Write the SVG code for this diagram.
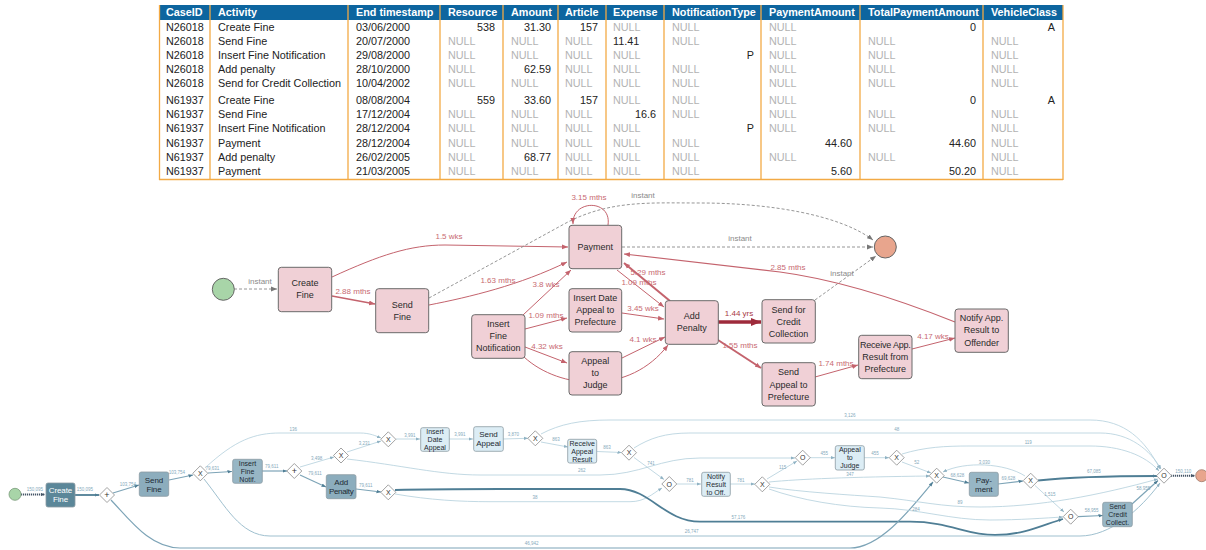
<svg xmlns="http://www.w3.org/2000/svg" width="1206" height="550" viewBox="0 0 1206 550">
<defs>
<style>
.hd{font:bold 10.8px 'Liberation Sans',Arial,sans-serif;fill:#fff}
.c{font:10.8px 'Liberation Sans',Arial,sans-serif;fill:#222}
.n{font:10.8px 'Liberation Sans',Arial,sans-serif;fill:#b3b3b3}
.r{text-anchor:end}
.sep{stroke:#f3aa45;stroke-width:1.3}
.pn rect{fill:#f0d0d6;stroke:#6a6a6a;stroke-width:1}
.pn text{font:9px 'Liberation Sans',Arial,sans-serif;fill:#2a2a2a;text-anchor:middle}
.pe{fill:none;stroke:#c4636d;stroke-width:1}
.pd{fill:none;stroke:#8a8a8a;stroke-width:0.9;stroke-dasharray:3 2}
.pl{font:8px 'Liberation Sans',Arial,sans-serif;fill:#c86a72;text-anchor:middle}
.gl{font:8px 'Liberation Sans',Arial,sans-serif;fill:#8a8a8a;text-anchor:middle}
.bn rect{stroke:#8a9aa2;stroke-width:0.8}
.bn text{font:8px 'Liberation Sans',Arial,sans-serif;fill:#1e2b33;text-anchor:middle;letter-spacing:-0.1px}
.bn text.s{font-size:7px;letter-spacing:0}
.dk rect{fill:#5b8799}
.dk text{fill:#fff}
.md rect{fill:#8cadbd}
.lt rect{fill:#dcedf5}
.gw polygon{fill:#fff;stroke:#8a8a8a;stroke-width:0.8}
.gw text{font:7px 'Liberation Sans',Arial,sans-serif;fill:#333;text-anchor:middle}
.be{fill:none;stroke:#b3cfdc;stroke-width:0.8}
.bm{fill:none;stroke:#7da4b7;stroke-width:1.2}
.bk{fill:none;stroke:#4f7e95;stroke-width:1.8}
.bl{font:4.5px 'Liberation Sans',Arial,sans-serif;fill:#86a9bb;text-anchor:middle}
</style>
<marker id="ar" viewBox="0 0 10 10" refX="10" refY="5" markerWidth="6" markerHeight="6" markerUnits="userSpaceOnUse" orient="auto"><path d="M0,1 L10,5 L0,9 z" fill="#c4636d"/></marker>
<marker id="arB" viewBox="0 0 10 10" refX="10" refY="5" markerWidth="10" markerHeight="10" markerUnits="userSpaceOnUse" orient="auto"><path d="M0,1 L10,5 L0,9 z" fill="#9e2b3b"/></marker>
<marker id="ag" viewBox="0 0 10 10" refX="10" refY="5" markerWidth="6" markerHeight="6" markerUnits="userSpaceOnUse" orient="auto"><path d="M0,1 L10,5 L0,9 z" fill="#777"/></marker>
<marker id="ab" viewBox="0 0 10 10" refX="10" refY="5" markerWidth="4" markerHeight="4" markerUnits="userSpaceOnUse" orient="auto"><path d="M0,1 L10,5 L0,9 z" fill="#8fb2c3"/></marker>
<marker id="abd" viewBox="0 0 10 10" refX="10" refY="5" markerWidth="4.5" markerHeight="4.5" markerUnits="userSpaceOnUse" orient="auto"><path d="M0,1 L10,5 L0,9 z" fill="#4f7e95"/></marker>
<marker id="abk" viewBox="0 0 10 10" refX="10" refY="5" markerWidth="4.5" markerHeight="4.5" markerUnits="userSpaceOnUse" orient="auto"><path d="M0,1 L10,5 L0,9 z" fill="#445566"/></marker>
</defs>
<rect width="1206" height="550" fill="#fff"/>

<g id="table">
<rect x="159" y="5" width="904" height="15" fill="#0d659f"/>
<g class="sep">
<line x1="159.5" y1="5" x2="159.5" y2="180"/><line x1="210" y1="5" x2="210" y2="180"/><line x1="348" y1="5" x2="348" y2="180"/><line x1="440" y1="5" x2="440" y2="180"/><line x1="503" y1="5" x2="503" y2="180"/><line x1="558" y1="5" x2="558" y2="180"/><line x1="606" y1="5" x2="606" y2="180"/><line x1="664" y1="5" x2="664" y2="180"/><line x1="761" y1="5" x2="761" y2="180"/><line x1="860" y1="5" x2="860" y2="180"/><line x1="983" y1="5" x2="983" y2="180"/><line x1="1063" y1="5" x2="1063" y2="180"/><line x1="159" y1="179.5" x2="1063" y2="179.5"/>
</g>
<text class="hd" x="166" y="16.3">CaseID</text><text class="hd" x="218" y="16.3">Activity</text><text class="hd" x="356" y="16.3">End timestamp</text><text class="hd" x="448" y="16.3">Resource</text><text class="hd" x="511" y="16.3">Amount</text><text class="hd" x="565" y="16.3">Article</text><text class="hd" x="613" y="16.3">Expense</text><text class="hd" x="672" y="16.3">NotificationType</text><text class="hd" x="769" y="16.3">PaymentAmount</text><text class="hd" x="868" y="16.3">TotalPaymentAmount</text><text class="hd" x="991" y="16.3">VehicleClass</text>

<text class="c" x="166" y="30.5">N26018</text><text class="c" x="218" y="30.5">Create Fine</text><text class="c" x="356" y="30.5">03/06/2000</text><text class="c r" x="495" y="30.5">538</text><text class="c r" x="551" y="30.5">31.30</text><text class="c r" x="598" y="30.5">157</text><text class="n" x="613" y="30.5">NULL</text><text class="n" x="672" y="30.5">NULL</text><text class="n" x="769" y="30.5">NULL</text><text class="c r" x="976" y="30.5">0</text><text class="c r" x="1055" y="30.5">A</text>

<text class="c" x="166" y="45.1">N26018</text><text class="c" x="218" y="45.1">Send Fine</text><text class="c" x="356" y="45.1">20/07/2000</text><text class="n" x="448" y="45.1">NULL</text><text class="n" x="511" y="45.1">NULL</text><text class="n" x="565" y="45.1">NULL</text><text class="c" x="613" y="45.1">11.41</text><text class="n" x="672" y="45.1">NULL</text><text class="n" x="769" y="45.1">NULL</text><text class="n" x="868" y="45.1">NULL</text><text class="n" x="991" y="45.1">NULL</text>

<text class="c" x="166" y="59.1">N26018</text><text class="c" x="218" y="59.1">Insert Fine Notification</text><text class="c" x="356" y="59.1">29/08/2000</text><text class="n" x="448" y="59.1">NULL</text><text class="n" x="511" y="59.1">NULL</text><text class="n" x="565" y="59.1">NULL</text><text class="n" x="613" y="59.1">NULL</text><text class="c r" x="754" y="59.1">P</text><text class="n" x="769" y="59.1">NULL</text><text class="n" x="868" y="59.1">NULL</text><text class="n" x="991" y="59.1">NULL</text>

<text class="c" x="166" y="73.1">N26018</text><text class="c" x="218" y="73.1">Add penalty</text><text class="c" x="356" y="73.1">28/10/2000</text><text class="n" x="448" y="73.1">NULL</text><text class="c r" x="551" y="73.1">62.59</text><text class="n" x="565" y="73.1">NULL</text><text class="n" x="613" y="73.1">NULL</text><text class="n" x="672" y="73.1">NULL</text><text class="n" x="769" y="73.1">NULL</text><text class="n" x="868" y="73.1">NULL</text><text class="n" x="991" y="73.1">NULL</text>

<text class="c" x="166" y="87.1">N26018</text><text class="c" x="218" y="87.1">Send for Credit Collection</text><text class="c" x="356" y="87.1">10/04/2002</text><text class="n" x="448" y="87.1">NULL</text><text class="n" x="511" y="87.1">NULL</text><text class="n" x="565" y="87.1">NULL</text><text class="n" x="613" y="87.1">NULL</text><text class="n" x="672" y="87.1">NULL</text><text class="n" x="769" y="87.1">NULL</text><text class="n" x="868" y="87.1">NULL</text><text class="n" x="991" y="87.1">NULL</text>

<text class="c" x="166" y="103.8">N61937</text><text class="c" x="218" y="103.8">Create Fine</text><text class="c" x="356" y="103.8">08/08/2004</text><text class="c r" x="495" y="103.8">559</text><text class="c r" x="551" y="103.8">33.60</text><text class="c r" x="598" y="103.8">157</text><text class="n" x="613" y="103.8">NULL</text><text class="n" x="672" y="103.8">NULL</text><text class="n" x="769" y="103.8">NULL</text><text class="c r" x="976" y="103.8">0</text><text class="c r" x="1055" y="103.8">A</text>

<text class="c" x="166" y="118.1">N61937</text><text class="c" x="218" y="118.1">Send Fine</text><text class="c" x="356" y="118.1">17/12/2004</text><text class="n" x="448" y="118.1">NULL</text><text class="n" x="511" y="118.1">NULL</text><text class="n" x="565" y="118.1">NULL</text><text class="c r" x="656" y="118.1">16.6</text><text class="n" x="672" y="118.1">NULL</text><text class="n" x="769" y="118.1">NULL</text><text class="n" x="868" y="118.1">NULL</text><text class="n" x="991" y="118.1">NULL</text>

<text class="c" x="166" y="132.1">N61937</text><text class="c" x="218" y="132.1">Insert Fine Notification</text><text class="c" x="356" y="132.1">28/12/2004</text><text class="n" x="448" y="132.1">NULL</text><text class="n" x="511" y="132.1">NULL</text><text class="n" x="565" y="132.1">NULL</text><text class="n" x="613" y="132.1">NULL</text><text class="c r" x="754" y="132.1">P</text><text class="n" x="769" y="132.1">NULL</text><text class="n" x="868" y="132.1">NULL</text><text class="n" x="991" y="132.1">NULL</text>

<text class="c" x="166" y="147.1">N61937</text><text class="c" x="218" y="147.1">Payment</text><text class="c" x="356" y="147.1">28/12/2004</text><text class="n" x="448" y="147.1">NULL</text><text class="n" x="511" y="147.1">NULL</text><text class="n" x="565" y="147.1">NULL</text><text class="n" x="613" y="147.1">NULL</text><text class="n" x="672" y="147.1">NULL</text><text class="c r" x="852" y="147.1">44.60</text><text class="c r" x="976" y="147.1">44.60</text><text class="n" x="991" y="147.1">NULL</text>

<text class="c" x="166" y="160.8">N61937</text><text class="c" x="218" y="160.8">Add penalty</text><text class="c" x="356" y="160.8">26/02/2005</text><text class="n" x="448" y="160.8">NULL</text><text class="c r" x="551" y="160.8">68.77</text><text class="n" x="565" y="160.8">NULL</text><text class="n" x="613" y="160.8">NULL</text><text class="n" x="672" y="160.8">NULL</text><text class="n" x="769" y="160.8">NULL</text><text class="n" x="868" y="160.8">NULL</text><text class="n" x="991" y="160.8">NULL</text>

<text class="c" x="166" y="175.1">N61937</text><text class="c" x="218" y="175.1">Payment</text><text class="c" x="356" y="175.1">21/03/2005</text><text class="n" x="448" y="175.1">NULL</text><text class="n" x="511" y="175.1">NULL</text><text class="n" x="565" y="175.1">NULL</text><text class="n" x="613" y="175.1">NULL</text><text class="n" x="672" y="175.1">NULL</text><text class="c r" x="852" y="175.1">5.60</text><text class="c r" x="976" y="175.1">50.20</text><text class="n" x="991" y="175.1">NULL</text>
</g>

<g id="pm-edges">
<path class="pd" d="M234,289 L277,289" marker-end="url(#ag)"/>
<text class="gl" x="260" y="284">instant</text>
<path class="pe" d="M332,296 L375,304" style="stroke-width:1.6" marker-end="url(#ar)"/>
<text class="pl" x="353" y="294">2.88 mths</text>
<path class="pe" d="M332,277 C380,255 410,245 445,245 L568,247" marker-end="url(#ar)"/>
<text class="pl" x="449" y="239">1.5 wks</text>
<path class="pe" d="M429,305 C470,297 520,285 567,262" marker-end="url(#ar)"/>
<text class="pl" x="498" y="282.5">1.63 mths</text>
<path class="pd" d="M429,298 L566,223 C610,200 650,203 700,203 C770,203 840,215 873,240" marker-end="url(#ag)"/>
<text class="gl" x="643" y="198">instant</text>
<path class="pe" d="M608,225 C612,199 572,199 573,224" marker-end="url(#ar)"/>
<text class="pl" x="589" y="200">3.15 mths</text>
<path class="pd" d="M622,247 L873,247" marker-end="url(#ag)"/>
<text class="gl" x="740" y="241">instant</text>
<path class="pd" d="M815,300 L876,256" marker-end="url(#ag)"/>
<text class="gl" x="842" y="275.5">instant</text>
<path class="pe" d="M523,315 L571,270" marker-end="url(#ar)"/>
<text class="pl" x="546" y="287">3.8 wks</text>
<path class="pe" d="M525,329 L567,318" marker-end="url(#ar)"/>
<text class="pl" x="546" y="318">1.09 mths</text>
<path class="pe" d="M525,347 L567,363" marker-end="url(#ar)"/>
<text class="pl" x="547" y="349">4.32 wks</text>
<path class="pe" d="M524,357 C560,390 630,395 668,345" marker-end="url(#ar)"/>
<path class="pe" d="M622,313 L664,319" marker-end="url(#ar)"/>
<text class="pl" x="643" y="311">3.45 wks</text>
<path class="pe" d="M622,358 L665,337" marker-end="url(#ar)"/>
<text class="pl" x="643" y="342">4.1 wks</text>
<path class="pe" d="M617,270 L664,307" marker-end="url(#ar)"/>
<text class="pl" x="639" y="285">1.09 mths</text>
<path class="pe" d="M670,301 L624,263" style="stroke-width:2" marker-end="url(#ar)"/>
<text class="pl" x="648" y="275">5.29 mths</text>
<path class="pe" d="M718,322 L761,322" style="stroke:#9e2b3b;stroke-width:3.5" marker-end="url(#arB)"/>
<text class="pl" x="739" y="316" style="fill:#a83845">1.44 yrs</text>
<path class="pe" d="M718,340 L761,368" style="stroke-width:2" marker-end="url(#ar)"/>
<text class="pl" x="740" y="348">1.55 mths</text>
<path class="pe" d="M815,377 L858,365" marker-end="url(#ar)"/>
<text class="pl" x="836" y="366">1.74 mths</text>
<path class="pe" d="M912,349 L955,338" marker-end="url(#ar)"/>
<text class="pl" x="933" y="338.5">4.17 wks</text>
<path class="pe" d="M955,322 C900,300 840,280 780,272 C720,265 660,258 624,254" style="stroke-width:1.2" marker-end="url(#ar)"/>
<text class="pl" x="788" y="270">2.85 mths</text>
</g>

<g id="pm-nodes">
<g id="pm-start"><circle cx="223.3" cy="289.3" r="11" fill="#a8d5a8" stroke="#666" stroke-width="1"/></g>
<g id="pm-end"><circle cx="885.3" cy="247" r="11" fill="#e8a58d" stroke="#666" stroke-width="1"/></g>
<g id="pm-create-fine" class="pn"><rect x="278.3" y="267.3" width="53.4" height="44.4" rx="3"/><text x="305" y="286">Create</text><text x="305" y="298">Fine</text></g>
<g id="pm-send-fine" class="pn"><rect x="375.7" y="288.7" width="53" height="44" rx="3"/><text x="402.2" y="307.5">Send</text><text x="402.2" y="320">Fine</text></g>
<g id="pm-insert-fine-notification" class="pn"><rect x="471.7" y="314.7" width="53.3" height="43.6" rx="3"/><text x="498.3" y="327.3">Insert</text><text x="498.3" y="339.3">Fine</text><text x="498.3" y="351.3">Notification</text></g>
<g id="pm-payment" class="pn"><rect x="569" y="225.3" width="52.7" height="43.4" rx="3"/><text x="595.3" y="250.3">Payment</text></g>
<g id="pm-insert-date-appeal" class="pn"><rect x="569" y="288.7" width="52.7" height="43.3" rx="3"/><text x="595.3" y="301">Insert Date</text><text x="595.3" y="313">Appeal to</text><text x="595.3" y="325">Prefecture</text></g>
<g id="pm-appeal-to-judge" class="pn"><rect x="569" y="351.7" width="52.7" height="43.3" rx="3"/><text x="595.3" y="364">Appeal</text><text x="595.3" y="376">to</text><text x="595.3" y="388.3">Judge</text></g>
<g id="pm-add-penalty" class="pn"><rect x="665.3" y="300.7" width="53" height="43.6" rx="3"/><text x="691.8" y="319">Add</text><text x="691.8" y="331">Penalty</text></g>
<g id="pm-send-credit-collection" class="pn"><rect x="762" y="299.7" width="53.3" height="43.3" rx="3"/><text x="788.6" y="313">Send for</text><text x="788.6" y="325">Credit</text><text x="788.6" y="337">Collection</text></g>
<g id="pm-send-appeal-prefecture" class="pn"><rect x="762" y="362.7" width="53.3" height="43.3" rx="3"/><text x="788.6" y="375">Send</text><text x="788.6" y="388">Appeal to</text><text x="788.6" y="400">Prefecture</text></g>
<g id="pm-receive-result" class="pn"><rect x="858.7" y="335.3" width="53.3" height="43.4" rx="3"/><text x="885.3" y="348.3" style="letter-spacing:-0.2px">Receive App.</text><text x="885.3" y="360.3">Result from</text><text x="885.3" y="372.3">Prefecture</text></g>
<g id="pm-notify-result" class="pn"><rect x="955" y="309" width="53.3" height="43.3" rx="3"/><text x="981.6" y="321">Notify App.</text><text x="981.6" y="333.3">Result to</text><text x="981.6" y="345.6">Offender</text></g>
</g>

<g id="bpmn-edges">
<path d="M21,494.5 L45,494.5" fill="none" stroke="#445566" stroke-width="2" stroke-dasharray="1.2 0.8" marker-end="url(#abk)"/>
<text class="bl" x="35" y="491">150,095</text>
<path class="bk" d="M75,495 L99,495" marker-end="url(#abd)"/>
<text class="bl" x="85" y="491">150,095</text>
<path class="bm" d="M113,493 L139,485" marker-end="url(#abd)"/>
<text class="bl" x="128" y="486">103,754</text>
<path class="bm" d="M169,480 L193,475" marker-end="url(#abd)"/>
<text class="bl" x="177" y="474">103,754</text>
<path class="bm" d="M208,473 L232,471.5" marker-end="url(#abd)"/>
<text class="bl" x="212.5" y="469.5">79,631</text>
<path class="bm" d="M262,471 L287,471" marker-end="url(#abd)"/>
<text class="bl" x="271.7" y="468">79,611</text>
<path class="be" d="M300,467 L334,457" marker-end="url(#ab)"/>
<text class="bl" x="316.7" y="460">3,498</text>
<path class="bm" d="M300,475 L326,487" marker-end="url(#abd)"/>
<text class="bl" x="315" y="475">79,611</text>
<path class="bm" d="M356,489 L381,492" marker-end="url(#abd)"/>
<text class="bl" x="365.7" y="486.5">79,611</text>
<path class="be" d="M347,452 L381,441" marker-end="url(#ab)"/>
<text class="bl" x="364.3" y="445">3,231</text>
<path class="be" d="M205,468 C235,440 255,433 280,433 L360,433 C370,433 376,436 381,438" marker-end="url(#ab)"/>
<text class="bl" x="293.3" y="430.5">136</text>
<path class="be" d="M396,439 L420,439" marker-end="url(#ab)"/>
<text class="bl" x="410" y="436.5">3,991</text>
<path class="be" d="M449,439 L473,439" marker-end="url(#ab)"/>
<text class="bl" x="460" y="436">3,991</text>
<path class="be" d="M503,439 L528,438.3" marker-end="url(#ab)"/>
<text class="bl" x="513.3" y="436">3,870</text>
<path class="be" d="M541,442 L568,447" marker-end="url(#ab)"/>
<text class="bl" x="556" y="441">863</text>
<path class="be" d="M597,451.5 L621.5,452.5" marker-end="url(#ab)"/>
<text class="bl" x="607" y="449">863</text>
<path class="be" d="M634,457.5 L664,479.5" marker-end="url(#ab)"/>
<text class="bl" x="651" y="464.5">741</text>
<path class="be" d="M677,484 L701,484" marker-end="url(#ab)"/>
<text class="bl" x="690" y="481.5">781</text>
<path class="be" d="M730,484 L755,484" marker-end="url(#ab)"/>
<text class="bl" x="740.7" y="481.5">781</text>
<path class="be" d="M767,479 L797,461" marker-end="url(#ab)"/>
<text class="bl" x="782.7" y="468.5">115</text>
<path class="be" d="M810,457.7 L835,457.7" marker-end="url(#ab)"/>
<text class="bl" x="824.3" y="455">455</text>
<path class="be" d="M864,457.7 L889,457.7" marker-end="url(#ab)"/>
<text class="bl" x="875" y="455">455</text>
<path class="be" d="M902,462 L931,473" marker-end="url(#ab)"/>
<text class="bl" x="916.7" y="464">52</text>
<path class="bm" d="M943,477 L969,483" marker-end="url(#abd)"/>
<text class="bl" x="957.3" y="476.5">68,628</text>
<path class="bm" d="M998,484 L1023,481" marker-end="url(#abd)"/>
<text class="bl" x="1008.3" y="479.5">69,628</text>
<path class="be" d="M1025,476 C1005,463 965,461 943,472" marker-end="url(#ab)"/>
<text class="bl" x="984.3" y="464">3,030</text>
<path class="bk" d="M1038,480.5 C1080,476 1120,476 1157,476" marker-end="url(#abd)"/>
<text class="bl" x="1094" y="473">67,085</text>
<path class="be" d="M1035,485.5 L1064,512" marker-end="url(#ab)"/>
<text class="bl" x="1050" y="496">1,515</text>
<path class="bm" d="M1078,516.7 L1103,515.5" marker-end="url(#abd)"/>
<text class="bl" x="1091.7" y="511.5">58,955</text>
<path class="bm" d="M1132,504 L1158,480.5" marker-end="url(#abd)"/>
<text class="bl" x="1143.3" y="489.5">58,955</text>
<path d="M1171,475.7 L1195,475.7" fill="none" stroke="#445566" stroke-width="2" stroke-dasharray="1.2 0.8" marker-end="url(#abk)"/>
<text class="bl" x="1183.3" y="472.5">150,110</text>
<path class="be" d="M541,434 C560,424 580,420 610,420 L1090,420 C1125,420 1145,440 1160,469" marker-end="url(#ab)"/>
<text class="bl" x="850" y="417">3,126</text>
<path class="be" d="M634,448 C650,438 665,433 690,433 L1100,433 C1130,433 1150,450 1161,469" marker-end="url(#ab)"/>
<text class="bl" x="896.7" y="430.5">48</text>
<path class="be" d="M902,454 C925,447 945,446 970,446 L1090,446 C1120,446 1145,455 1159,471" marker-end="url(#ab)"/>
<text class="bl" x="1028.3" y="443.5">119</text>
<path class="be" d="M347,459 C400,465 440,475 480,475 L600,475 C640,475 660,458 700,458 L795,458" marker-end="url(#ab)"/>
<text class="bl" x="581.7" y="472">262</text>
<path class="be" d="M395,494 C430,500 460,501.7 490,501.7 L630,501.7 C645,501.7 652,494 662,488" marker-end="url(#ab)"/>
<text class="bl" x="535" y="499">38</text>
<path class="bk" d="M395,490 C430,489 470,489 500,489 L620,489 C650,489 665,521.7 700,521.7 L910,521.7 C950,521.7 965,535 995,535 C1025,535 1045,524 1063,519" marker-end="url(#abd)"/>
<text class="bl" x="738.3" y="518.5">57,176</text>
<path class="be" d="M204,479 C225,505 240,536 270,536 L1080,536 C1110,536 1140,510 1160,483" style="stroke:#9fc0cf;stroke-width:1" marker-end="url(#ab)"/>
<text class="bl" x="691.7" y="533">26,747</text>
<path class="bm" d="M111,500 C130,520 150,548 180,548 L850,548 C880,548 910,510 933,482" marker-end="url(#abd)"/>
<text class="bl" x="531.7" y="545">46,942</text>
<path class="be" d="M769,482 C800,479 850,477 930,476" marker-end="url(#ab)"/>
<text class="bl" x="850" y="475.5">347</text>
<path class="be" d="M769,487 C800,492 850,495 880,497 C920,501 940,507 980,507 C1040,507 1100,495 1158,479" marker-end="url(#ab)"/>
<text class="bl" x="960" y="504">89</text>
<path class="be" d="M769,489 C800,500 840,507 880,508 C920,509 950,520 990,520 C1020,520 1045,518 1063,517" marker-end="url(#ab)"/>
<text class="bl" x="916" y="510.5">284</text>
</g>

<g id="bpmn-nodes">
<g id="b-start"><circle cx="15" cy="494.3" r="6" fill="#a8d5a8" stroke="#7a9a7a" stroke-width="0.8"/></g>
<g id="b-end"><circle cx="1201.7" cy="475.7" r="6" fill="#e8a58d" stroke="#a07a6a" stroke-width="0.8"/></g>
<g id="b-create-fine" class="bn dk"><rect x="46" y="483" width="29" height="24" rx="2"/><text x="60.5" y="493.4">Create</text><text x="60.5" y="502.4">Fine</text></g>
<g id="b-send-fine" class="bn md"><rect x="139.3" y="472" width="29.4" height="24.3" rx="2"/><text x="154" y="482.6">Send</text><text x="154" y="491.6">Fine</text></g>
<g id="b-insert-fine-notif" class="bn md"><rect x="232.7" y="459.3" width="29.6" height="24" rx="2" style="fill:#97b6c5"/><text class="s" x="247.5" y="465.9">Insert</text><text class="s" x="247.5" y="473.8">Fine</text><text class="s" x="247.5" y="481.7">Notif.</text></g>
<g id="b-add-penalty" class="bn md"><rect x="326.3" y="474.7" width="29.7" height="24" rx="2"/><text x="341.2" y="485.1">Add</text><text x="341.2" y="494.1" style="letter-spacing:-0.3px">Penalty</text></g>
<g id="b-insert-date-appeal" class="bn lt"><rect x="420.7" y="427.7" width="28.6" height="23.6" rx="2"/><text class="s" x="435" y="434.1">Insert</text><text class="s" x="435" y="442">Date</text><text class="s" x="435" y="449.9">Appeal</text></g>
<g id="b-send-appeal" class="bn lt"><rect x="473.7" y="426.7" width="29.6" height="24.6" rx="2"/><text x="488.5" y="437.4">Send</text><text x="488.5" y="446.4">Appeal</text></g>
<g id="b-receive-appeal-result" class="bn lt"><rect x="567.7" y="439.3" width="29" height="23.7" rx="2"/><text class="s" x="582.2" y="445.8">Receive</text><text class="s" x="582.2" y="453.7">Appeal</text><text class="s" x="582.2" y="461.6">Result</text></g>
<g id="b-notify-result" class="bn lt"><rect x="701.7" y="472.3" width="28.6" height="24" rx="2"/><text class="s" x="716" y="478.9">Notify</text><text class="s" x="716" y="486.8">Result</text><text class="s" x="716" y="494.7">to Off.</text></g>
<g id="b-appeal-to-judge" class="bn lt"><rect x="835.3" y="445.7" width="29" height="24.3" rx="2"/><text class="s" x="849.8" y="452.4">Appeal</text><text class="s" x="849.8" y="460.3">to</text><text class="s" x="849.8" y="468.2">Judge</text></g>
<g id="b-payment" class="bn md"><rect x="969.3" y="472.3" width="29" height="24" rx="2" style="fill:#97b6c5"/><text x="983.8" y="482.7">Pay-</text><text x="983.8" y="491.7">ment</text></g>
<g id="b-send-credit-collect" class="bn md"><rect x="1102.7" y="502.3" width="29.6" height="24.4" rx="2" style="fill:#97b6c5"/><text class="s" x="1117.5" y="509.1">Send</text><text class="s" x="1117.5" y="517">Credit</text><text class="s" x="1117.5" y="524.9">Collect.</text></g>

<g id="g-and1" class="gw"><polygon points="107,487.5 114.5,495 107,502.5 99.5,495"/><text x="107" y="498" style="font-size:9px">+</text></g>
<g id="g-x1" class="gw"><polygon points="200.3,465.8 207.8,473.3 200.3,480.8 192.8,473.3"/><text x="200.3" y="475.8">X</text></g>
<g id="g-and2" class="gw"><polygon points="294.3,463.5 301.8,471 294.3,478.5 286.8,471"/><text x="294.3" y="474" style="font-size:9px">+</text></g>
<g id="g-x3" class="gw"><polygon points="341,448 348.5,455.5 341,463 333.5,455.5"/><text x="341" y="458">X</text></g>
<g id="g-x2" class="gw"><polygon points="388.3,431.8 395.8,439.3 388.3,446.8 380.8,439.3"/><text x="388.3" y="441.8">X</text></g>
<g id="g-x4" class="gw"><polygon points="388.3,484.8 395.8,492.3 388.3,499.8 380.8,492.3"/><text x="388.3" y="494.8">X</text></g>
<g id="g-x5" class="gw"><polygon points="535.3,430.8 542.8,438.3 535.3,445.8 527.8,438.3"/><text x="535.3" y="440.8">X</text></g>
<g id="g-x6" class="gw"><polygon points="629,445.2 636.5,452.7 629,460.2 621.5,452.7"/><text x="629" y="455.2">X</text></g>
<g id="g-o7" class="gw"><polygon points="669.3,476.5 676.8,484 669.3,491.5 661.8,484"/><text x="669.3" y="486.5">O</text></g>
<g id="g-x8" class="gw"><polygon points="762.3,476.8 769.8,484.3 762.3,491.8 754.8,484.3"/><text x="762.3" y="486.8">X</text></g>
<g id="g-o9" class="gw"><polygon points="802.7,450.2 810.2,457.7 802.7,465.2 795.2,457.7"/><text x="802.7" y="460.2">O</text></g>
<g id="g-x10" class="gw"><polygon points="896.7,450.2 904.2,457.7 896.7,465.2 889.2,457.7"/><text x="896.7" y="460.2">X</text></g>
<g id="g-x11" class="gw"><polygon points="936.7,468.2 944.2,475.7 936.7,483.2 929.2,475.7"/><text x="936.7" y="478.2">X</text></g>
<g id="g-x12" class="gw"><polygon points="1030.7,473.2 1038.2,480.7 1030.7,488.2 1023.2,480.7"/><text x="1030.7" y="483.2">X</text></g>
<g id="g-o13" class="gw"><polygon points="1070.7,509.2 1078.2,516.7 1070.7,524.2 1063.2,516.7"/><text x="1070.7" y="519.2">O</text></g>
<g id="g-oend" class="gw"><polygon points="1164,468.2 1171.5,475.7 1164,483.2 1156.5,475.7"/><text x="1164" y="478.2">O</text></g>
</g>
</svg>
